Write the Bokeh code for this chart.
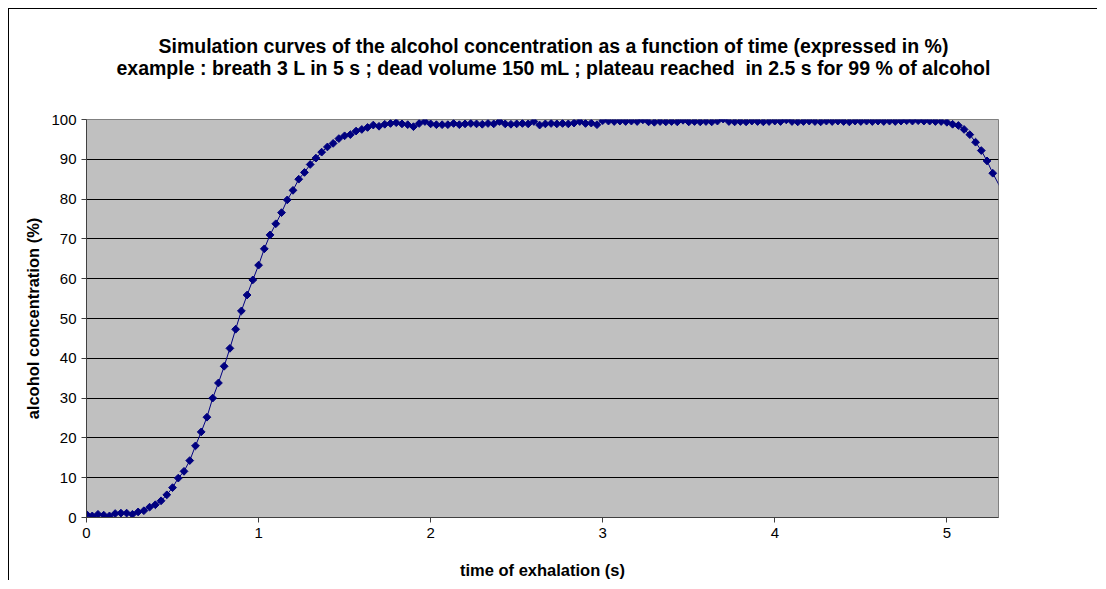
import numpy as np
from bokeh.plotting import figure
from bokeh.models import Range1d, Title, FixedTicker, Spacer
from bokeh.layouts import column, row
from bokeh.embed import file_html
from bokeh.resources import INLINE

# ---------------- data ----------------
title_line1 = "Simulation curves of the alcohol concentration as a function of time (expressed in %)"
title_line2 = "example : breath 3 L in 5 s ; dead volume 150 mL ; plateau reached\u00a0 in 2.5 s for 99 % of alcohol"
x_label = "time of exhalation (s)"
y_label = "alcohol concentration (%)"

x_ticks = [0, 1, 2, 3, 4, 5]
y_ticks = [0, 10, 20, 30, 40, 50, 60, 70, 80, 90, 100]

sample_step_s = 1 / 30  # one sample every 1/30 s

concentration = [
    0.8, 0.4, 0.8, 0.6, 0.4, 1.0, 1.1, 1.1, 0.8, 1.4,
    1.7, 2.6, 3.2, 4.2, 5.7, 7.5, 9.9, 11.6, 14.3, 18.0,
    21.5, 25.2, 30.0, 33.8, 38.0, 42.5, 47.3, 51.9, 55.9, 59.7,
    63.4, 67.5, 71.0, 73.8, 76.6, 79.8, 82.2, 85.0, 86.7, 88.7,
    90.3, 91.8, 93.1, 94.0, 95.2, 95.9, 96.2, 97.1, 97.5, 98.0,
    98.6, 98.3, 98.8, 99.0, 99.2, 98.9, 98.7, 98.2, 99.0, 99.5,
    98.9, 98.7, 98.7, 98.7, 99.0, 98.7, 98.9, 99.0, 98.9, 98.8,
    99.0, 98.9, 99.5, 98.9, 98.8, 98.9, 99.0, 98.9, 99.5, 98.6,
    98.9, 99.0, 98.9, 99.0, 98.9, 99.1, 99.5, 99.0, 99.1, 98.7,
    99.7, 99.6, 99.5, 99.6, 99.5, 99.6, 99.5, 99.9, 99.4, 99.3,
    99.5, 99.4, 99.5, 99.4, 99.8, 99.4, 99.5, 99.4, 99.5, 99.4,
    99.6, 100.1, 99.5, 99.4, 99.5, 99.4, 99.6, 99.5, 99.4, 99.5,
    99.6, 99.5, 99.9, 99.5, 99.4, 99.5, 99.6, 99.5, 99.4, 99.6,
    99.5, 99.6, 99.5, 99.4, 99.6, 99.5, 99.6, 99.5, 99.6, 99.5,
    99.6, 99.5, 99.6, 99.7, 99.6, 99.7, 99.6, 99.6, 99.5, 99.5,
    99.3, 98.8, 98.5, 97.5, 96.2, 94.3, 92.2, 89.6, 86.5, 83.8,
    81.0,
]
n_markers = 159  # markers visible inside the plot area

# ---------------- chart ----------------
time_s = np.arange(len(concentration)) * sample_step_s
conc = np.array(concentration)

FONT = "Liberation Sans"
NAVY = "#000080"

p = figure(
    width=1089, height=572,
    output_backend="svg", toolbar_location=None,
    x_range=Range1d(0, 5.3), y_range=Range1d(0, 100),
    min_border_left=77, min_border_right=100,
    min_border_top=110, min_border_bottom=63,
    background_fill_color="#C0C0C0", border_fill_color="white",
)
p.outline_line_color = "#808080"
p.outline_line_width = 1

# white spacer title that keeps the gap between the title lines and the plot area
gap = Title(text=".", text_color="white", text_font=FONT, text_font_size="10px", standoff=30)
t2 = Title(text=title_line2, align="left", offset=30, text_font=FONT,
           text_font_size="19.5px", text_font_style="bold", text_color="black", standoff=2)
t1 = Title(text=title_line1, align="left", offset=72, text_font=FONT,
           text_font_size="19.5px", text_font_style="bold", text_color="black", standoff=-6)
p.add_layout(gap, "above")
p.add_layout(t2, "above")
p.add_layout(t1, "above")

p.xgrid.visible = False
p.ygrid.ticker = FixedTicker(ticks=y_ticks)
p.ygrid.grid_line_color = "black"
p.ygrid.grid_line_width = 1

for ax in (p.xaxis, p.yaxis):
    ax.axis_line_color = "#404040"
    ax.axis_line_width = 1
    ax.major_tick_line_color = "#404040"
    ax.major_tick_in = 0
    ax.major_tick_out = 5
    ax.minor_tick_line_color = None
    ax.major_label_text_font = FONT
    ax.major_label_text_font_size = "15px"
    ax.major_label_text_color = "black"
    ax.major_label_standoff = 5
    ax.axis_label_text_font = FONT
    ax.axis_label_text_font_size = "16.5px"
    ax.axis_label_text_font_style = "bold"
    ax.axis_label_text_color = "black"

p.xaxis.ticker = FixedTicker(ticks=x_ticks)
p.yaxis.ticker = FixedTicker(ticks=y_ticks)
p.xaxis.axis_label = x_label
p.yaxis.axis_label = y_label
p.xaxis.axis_label_standoff = 20
p.yaxis.axis_label_standoff = 6

p.line(time_s, conc, line_color=NAVY, line_width=1)
p.scatter(time_s[:n_markers], conc[:n_markers], marker="square", size=5.5, angle=np.pi / 4,
          fill_color=NAVY, line_color=NAVY, line_width=1)

p.styles = {"border-left": "1px solid black", "border-top": "1px solid black"}

layout = column(Spacer(width=1098, height=8), row(Spacer(width=8, height=572), p, spacing=0), spacing=0)

open("out.html", "w").write(file_html(layout, INLINE))
